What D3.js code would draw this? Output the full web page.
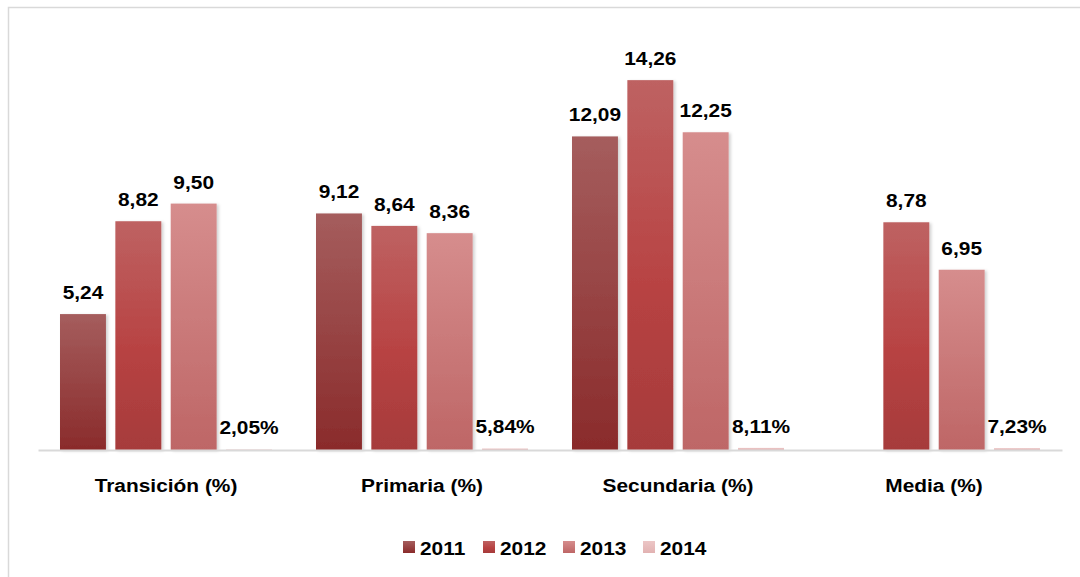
<!DOCTYPE html>
<html>
<head>
<meta charset="utf-8">
<script src="https://cdn.jsdelivr.net/npm/d3@7/dist/d3.min.js"></script>
<style>
  html, body { margin: 0; padding: 0; background: #fff; }
  svg { display: block; }
  text { font-family: "Liberation Sans", Arial, sans-serif; font-weight: bold; fill: #000; }
</style>
</head>
<body>
<svg id="chart" width="1080" height="577"></svg>
<script>
const categories = ["Transición (%)", "Primaria (%)", "Secundaria (%)", "Media (%)"];
const series = ["2011", "2012", "2013", "2014"];
const values2011 = [5.24, 9.12, 12.09, null];
const values2012 = [8.82, 8.64, 14.26, 8.78];
const values2013 = [9.50, 8.36, 12.25, 6.95];
const values2014 = [0.0205, 0.0584, 0.0811, 0.0723];
const labels2011 = ["5,24", "9,12", "12,09", null];
const labels2012 = ["8,82", "8,64", "14,26", "8,78"];
const labels2013 = ["9,50", "8,36", "12,25", "6,95"];
const labels2014 = ["2,05%", "5,84%", "8,11%", "7,23%"];

const seriesValues = [values2011, values2012, values2013, values2014];
const seriesLabels = [labels2011, labels2012, labels2013, labels2014];
const gradStops = [
  [["0%", "#a55d5d"], ["100%", "#8a2b2b"]],
  [["0%", "#be6262"], ["55%", "#b84343"], ["100%", "#a63b3b"]],
  [["0%", "#d68d8d"], ["100%", "#be6666"]],
  [["0%", "#ecc6c6"], ["100%", "#e2b2b2"]]
];

const svg = d3.select("#chart");
const defs = svg.append("defs");
gradStops.forEach((stops, i) => {
  const g = defs.append("linearGradient").attr("id", "g" + i)
    .attr("x1", 0).attr("y1", 0).attr("x2", 0).attr("y2", 1);
  stops.forEach(s => g.append("stop").attr("offset", s[0]).attr("stop-color", s[1]));
});
const f = defs.append("filter").attr("id", "shadow").attr("x", "-20%").attr("y", "-5%").attr("width", "140%").attr("height", "110%");
f.append("feDropShadow").attr("dx", 2).attr("dy", 1).attr("stdDeviation", 1.5).attr("flood-color", "#000").attr("flood-opacity", 0.18);

// outer border
svg.append("rect").attr("x", 8.5).attr("y", 7.5).attr("width", 1100).attr("height", 600)
  .attr("fill", "none").attr("stroke", "#d9d9d9").attr("stroke-width", 1.5);

const x0 = d3.scaleBand().domain(categories).range([38, 1062]);
const x1 = d3.scaleBand().domain(series).range([22, 234]).paddingInner(0.17);
const y = d3.scaleLinear().domain([0, 16]).range([450, 35]);

const SX = 1.13;
function txt(sel, x, yy, s, size) {
  return sel.append("text")
    .attr("transform", `translate(${x},${yy}) scale(${SX},1)`)
    .attr("text-anchor", "middle")
    .style("font-size", size + "px")
    .text(s);
}

const groups = svg.selectAll("g.cat").data(categories).join("g")
  .attr("class", "cat")
  .attr("transform", d => `translate(${x0(d)},0)`);

groups.each(function(cat, ci) {
  const g = d3.select(this);
  series.forEach((s, si) => {
    const v = seriesValues[si][ci];
    if (v == null) return;
    g.append("rect")
      .attr("x", x1(s)).attr("width", x1.bandwidth())
      .attr("y", y(v)).attr("height", y(0) - y(v))
      .attr("fill", `url(#g${si})`)
      .attr("filter", si < 3 ? "url(#shadow)" : null);
  });
});

// axis line
svg.append("g").attr("transform", `translate(0,${y(0)})`)
  .call(d3.axisBottom(x0).tickSize(0).tickFormat(""))
  .call(a => a.select(".domain").attr("stroke", "#d9d9d9").attr("stroke-width", 2));

// value labels
groups.each(function(cat, ci) {
  const g = d3.select(this);
  series.forEach((s, si) => {
    const v = seriesValues[si][ci];
    if (v == null) return;
    txt(g, x1(s) + x1.bandwidth() / 2, y(v) - 15, seriesLabels[si][ci], 18.5);
  });
});

// category labels
categories.forEach(c => txt(svg, x0(c) + x0.bandwidth() / 2, 492, c, 18.5));

// legend
const legendX = d3.scaleBand().domain(series).range([403, 723]);
series.forEach((s, i) => {
  const lx = legendX(s);
  svg.append("rect").attr("x", lx).attr("y", 541).attr("width", 12).attr("height", 12)
    .attr("fill", `url(#g${i})`);
  svg.append("text")
    .attr("transform", `translate(${lx + 17},555) scale(${SX},1)`)
    .style("font-size", "18.5px")
    .text(s);
});
</script>
</body>
</html>
